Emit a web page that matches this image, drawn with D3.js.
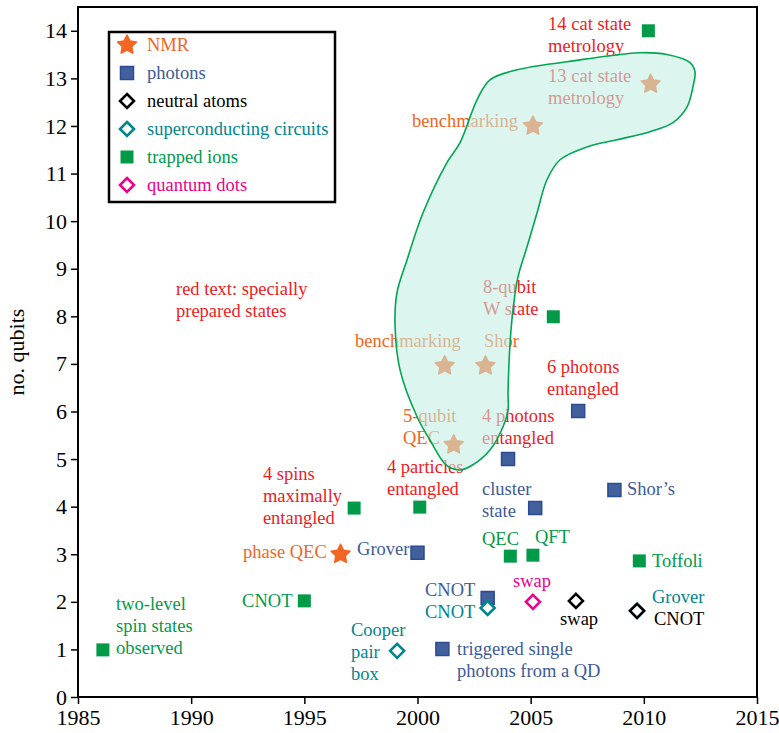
<!DOCTYPE html>
<html>
<head>
<meta charset="utf-8">
<script src="https://cdn.jsdelivr.net/npm/d3@7"></script>
<style>
body { margin: 0; background: #fff; }
svg text { font-family: "Liberation Serif", Tinos, "Times New Roman", Times, "DejaVu Serif", serif !important; }
</style>
</head>
<body>
<svg id="chart" width="779" height="733" font-family="Liberation Serif"></svg>
<script>
// ---- data ----
const xTicks = [1985, 1990, 1995, 2000, 2005, 2010, 2015];
const yTicks = [0, 1, 2, 3, 4, 5, 6, 7, 8, 9, 10, 11, 12, 13, 14];

const categories = ["NMR", "photons", "neutral atoms", "superconducting circuits", "trapped ions", "quantum dots"];

const nmrYear = [1996.6, 2001.2, 2003.0, 2001.6, 2005.1, 2010.3];
const nmrQubits = [3.0, 6.96, 6.96, 5.3, 12.0, 12.88];

const photonYear = [2000.0, 2001.1, 2003.1, 2004.0, 2005.2, 2007.1, 2008.7];
const photonQubits = [3.03, 1.01, 2.08, 5.0, 3.97, 6.01, 4.35];

const atomYear = [2007.0, 2009.7];
const atomQubits = [2.02, 1.81];

const scYear = [1999.1, 2003.1, 2009.7];
const scQubits = [0.97, 1.87, 1.81];

const ionYear = [1986.1, 1995.0, 1997.2, 2000.1, 2004.1, 2005.1, 2009.8, 2006.0, 2010.2];
const ionQubits = [0.99, 2.02, 3.97, 3.99, 2.96, 2.98, 2.86, 7.99, 14.0];

const qdYear = [2005.1];
const qdQubits = [2.0];

// outline of the shaded group (year, qubits)
const regionYear = [2002.63, 2003.2, 2004.4, 2006.61, 2009.83, 2011.02, 2012.04, 2012.26, 2012.17, 2011.91,
  2011.29, 2010.27, 2008.81, 2007.49, 2006.3, 2005.72, 2005.28, 2004.84, 2004.44, 2004.22, 2004.09,
  2004.0, 2004.0, 2003.78, 2003.2, 2002.45, 2001.88, 2001.3, 2000.55, 1999.98, 1999.23, 1999.01,
  1999.09, 1999.54, 2000.24, 2001.3, 2001.88];
const regionQubits = [12.55, 12.97, 13.18, 13.35, 13.54, 13.5, 13.33, 13.14, 12.82, 12.4,
  12.07, 11.88, 11.71, 11.56, 11.29, 10.87, 10.17, 9.46, 8.83, 8.14, 7.44,
  6.39, 6.03, 5.68, 5.19, 4.88, 4.77, 4.86, 5.4, 5.89, 6.87, 7.78,
  8.49, 9.19, 10.17, 11.23, 11.65];

// annotations: lines, anchor year, anchor qubits (first baseline), colour group
const labelLines = [
  ["14 cat state", "metrology"], ["13 cat state", "metrology"], ["benchmarking"], ["8-qubit", "W state"],
  ["benchmarking"], ["Shor"], ["6 photons", "entangled"], ["5-qubit", "QEC"], ["4 photons", "entangled"],
  ["4 spins", "maximally", "entangled"], ["4 particles", "entangled"], ["phase QEC"], ["Grover"],
  ["cluster", "state"], ["Shor\u2019s"], ["QEC"], ["QFT"], ["Toffoli"], ["swap"], ["Grover"], ["CNOT"],
  ["swap"], ["CNOT"], ["CNOT"], ["Cooper", "pair", "box"], ["triggered single", "photons from a QD"],
  ["two-level", "spin states", "observed"], ["CNOT"], ["red text: specially", "prepared states"]
];
const labelYear = [2005.77, 2005.77, 1999.76, 2002.89, 1997.24, 2002.94, 2005.72, 1999.36, 2002.85,
  1993.17, 1998.65, 1992.29, 1997.33, 2002.85, 2009.26, 2002.85, 2005.19, 2010.36, 2004.22, 2010.36,
  2010.45, 2006.3, 2000.33, 2000.33, 1997.06, 2001.75, 1986.68, 1992.25, 1989.33];
const labelQubits = [14.02, 12.92, 11.98, 8.49, 7.36, 7.36, 6.81, 5.78, 5.78,
  4.56, 4.71, 2.92, 2.98, 4.24, 4.24, 3.19, 3.24, 2.73, 2.31, 1.98,
  1.51, 1.51, 2.12, 1.66, 1.28, 0.88, 1.83, 1.89, 8.45];
const labelGroup = ["red", "red", "nmr", "red", "nmr", "nmr", "red", "nmr", "red",
  "red", "red", "nmr", "photons", "photons", "photons", "ions", "ions", "ions", "qd", "sc",
  "atoms", "atoms", "photons", "sc", "sc", "photons", "ions", "ions", "red"];

// ---- styles ----
const serif = "'Liberation Serif', Tinos, 'Times New Roman', Times, 'DejaVu Serif', serif";
const colors = {
  nmr: "#f26522", photons: "#3d5a98", atoms: "#000000", sc: "#00868f",
  ions: "#009a49", qd: "#ec008c", red: "#ed1c24"
};

const svg = d3.select("#chart");
const x = d3.scaleLinear().domain([1985, 2015]).range([78, 757]);
const y = d3.scaleLinear().domain([0, 14.5]).range([697, 7]);

// custom symbol shapes
const fatStar = {
  draw(ctx, size) {
    const R = size, r = size * 0.5;
    for (let i = 0; i < 10; i++) {
      const a = -Math.PI / 2 + i * Math.PI / 5;
      const rr = i % 2 ? r : R;
      if (i === 0) ctx.moveTo(rr * Math.cos(a), rr * Math.sin(a));
      else ctx.lineTo(rr * Math.cos(a), rr * Math.sin(a));
    }
    ctx.closePath();
  }
};
const diamond = {
  draw(ctx, size) {
    ctx.moveTo(0, -size); ctx.lineTo(size, 0); ctx.lineTo(0, size); ctx.lineTo(-size, 0); ctx.closePath();
  }
};
const starPath = d3.symbol().type(fatStar).size(10)();
const squarePath = d3.symbol().type(d3.symbolSquare).size(169)();
const diamondPath = d3.symbol().type(diamond).size(7)();

function drawStar(g, px, py) {
  g.append("path").attr("d", starPath).attr("transform", `translate(${px},${py})`)
    .attr("fill", colors.nmr).attr("stroke", colors.nmr).attr("stroke-width", 1.5)
    .attr("stroke-linejoin", "round");
}
function drawSquare(g, px, py, c, stroke) {
  g.append("path").attr("d", squarePath).attr("transform", `translate(${px},${py})`)
    .attr("fill", c).attr("stroke", stroke || "none").attr("stroke-width", 1.5);
}
function drawDiamond(g, px, py, c) {
  g.append("path").attr("d", diamondPath).attr("transform", `translate(${px},${py})`)
    .attr("fill", "#fff").attr("stroke", c).attr("stroke-width", 2.6);
}

// ---- axes ----
const xAxis = svg.append("g").attr("transform", "translate(0,697)")
  .call(d3.axisBottom(x).tickValues(xTicks).tickFormat(d3.format("d"))
    .tickSize(7).tickSizeOuter(0).tickPadding(5));
const yAxis = svg.append("g").attr("transform", "translate(78,0)")
  .call(d3.axisLeft(y).tickValues(yTicks).tickSize(7).tickSizeOuter(0).tickPadding(4));
[xAxis, yAxis].forEach(a => {
  a.attr("font-family", serif).attr("font-size", 22);
  a.selectAll("text").attr("fill", "#000");
  a.selectAll("line").attr("stroke", "#000").attr("stroke-width", 1.5);
  a.select(".domain").remove();
});

svg.append("rect").attr("x", x(1985)).attr("y", y(14.5))
  .attr("width", x(2015) - x(1985)).attr("height", y(0) - y(14.5))
  .attr("fill", "none").attr("stroke", "#000").attr("stroke-width", 2);

svg.append("text").attr("transform", "translate(24,352) rotate(-90)")
  .attr("font-family", serif).attr("text-anchor", "middle").attr("font-size", 22).text("no. qubits");

// ---- annotations ----
const labels = svg.append("g").attr("font-family", serif).attr("font-size", 18.5);
labelLines.forEach((lines, i) => {
  const t = labels.append("text").attr("x", x(labelYear[i])).attr("y", y(labelQubits[i]))
    .attr("fill", colors[labelGroup[i]]);
  lines.forEach((ln, j) => {
    t.append("tspan").attr("x", x(labelYear[i])).attr("dy", j === 0 ? 0 : 22).text(ln);
  });
});

// ---- markers ----
const marks = svg.append("g");
nmrYear.forEach((d, i) => drawStar(marks, x(d), y(nmrQubits[i])));
ionYear.forEach((d, i) => drawSquare(marks, x(d), y(ionQubits[i]), colors.ions));
photonYear.forEach((d, i) => drawSquare(marks, x(d), y(photonQubits[i]), "#41609c", "#2c4a96"));
scYear.forEach((d, i) => drawDiamond(marks, x(d), y(scQubits[i]), colors.sc));
atomYear.forEach((d, i) => drawDiamond(marks, x(d), y(atomQubits[i]), colors.atoms));
qdYear.forEach((d, i) => drawDiamond(marks, x(d), y(qdQubits[i]), colors.qd));

// ---- shaded group drawn over its members ----
const regionPts = regionYear.map((d, i) => [x(d), y(regionQubits[i])]);
svg.append("path")
  .attr("d", d3.line().curve(d3.curveCatmullRomClosed.alpha(0.5))(regionPts))
  .attr("fill", "#c5eee4").attr("fill-opacity", 0.58)
  .attr("stroke", "#00a651").attr("stroke-width", 1.6);

// ---- legend ----
const legend = svg.append("g").attr("font-family", serif);
legend.append("rect").attr("x", 109).attr("y", 32).attr("width", 226).attr("height", 170)
  .attr("fill", "#fff").attr("stroke", "#000").attr("stroke-width", 2.5);
const legendColors = [colors.nmr, colors.photons, colors.atoms, colors.sc, colors.ions, colors.qd];
categories.forEach((c, i) => {
  const cy = 45 + i * 28;
  if (i === 0) drawStar(legend, 127, cy);
  else if (i === 1) drawSquare(legend, 127, cy, "#41609c", "#2c4a96");
  else if (i === 4) drawSquare(legend, 127, cy, colors.ions);
  else drawDiamond(legend, 127, cy, legendColors[i]);
  legend.append("text").attr("x", 147).attr("y", cy + 6).attr("font-size", 18.5)
    .attr("fill", legendColors[i]).text(c);
});
</script>
</body>
</html>
